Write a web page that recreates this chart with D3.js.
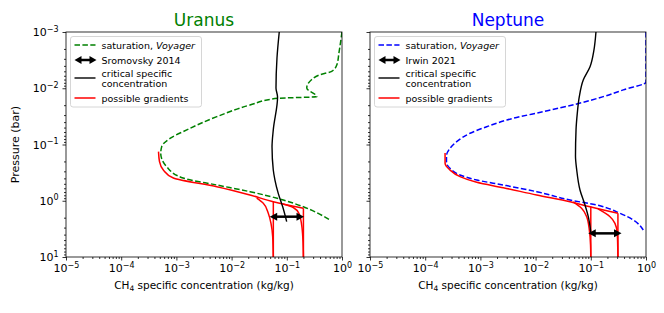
<!DOCTYPE html>
<html>
<head>
<meta charset="utf-8">
<script src="https://cdn.jsdelivr.net/npm/d3@7"></script>
<style>
body{margin:0;background:#fff;}
text{font-family:"DejaVu Sans",sans-serif;}
</style>
</head>
<body>
<script>
// axis ticks
var xMajor = [1e-5, 1e-4, 1e-3, 1e-2, 1e-1, 1];
var yMajor = [1e-3, 1e-2, 1e-1, 1, 10];

// Uranus
var uranusSatX = [1.0, 0.88, 0.81, 0.65, 0.40, 0.28, 0.23, 0.35, 0.068, 0.0215, 0.0054, 0.00154, 0.000766, 0.000542, 0.00052, 0.000667, 0.00132, 0.0054, 0.0215, 0.0865, 0.199, 0.61];
var uranusSatP = [0.001, 0.00236, 0.0038, 0.005, 0.00574, 0.00705, 0.0099, 0.0141, 0.0151, 0.0199, 0.032, 0.055, 0.078, 0.109, 0.144, 0.248, 0.394, 0.525, 0.69, 0.97, 1.28, 2.2];
var uranusCritX = [0.073, 0.0664, 0.0637, 0.068, 0.0569, 0.054, 0.0569, 0.061, 0.070, 0.0843, 0.0995];
var uranusCritP = [0.001, 0.0029, 0.0099, 0.0143, 0.055, 0.111, 0.284, 0.428, 0.738, 1.28, 2.35];
var uranusGradX = [0.000474, 0.000494, 0.00058, 0.00088, 0.0054, 0.0215, 0.057, 0.20];
var uranusGradP = [0.134, 0.202, 0.284, 0.394, 0.562, 0.79, 1.04, 1.36];
var uranusBendLowX = [0.0285, 0.0375, 0.0462, 0.0517, 0.0555, 0.057];
var uranusBendLowP = [0.90, 1.11, 1.67, 2.52, 4.35, 10];
var uranusBendHighX = [0.0853, 0.131, 0.168, 0.186, 0.196, 0.20];
var uranusBendHighP = [1.14, 1.32, 1.72, 2.70, 4.99, 10];
var uranusStepX = [0.057, 0.20];
var uranusStepTop = [1.04, 1.36];
var uranusArrowX = [0.049, 0.205];
var uranusArrowP = 1.92;

// Neptune
var neptuneSatX = [1.0, 1.0, 0.388, 0.168, 0.0556, 0.01377, 0.00394, 0.0013, 0.000649, 0.000372, 0.000281, 0.000243, 0.000243, 0.000281, 0.000427, 0.000857, 0.0026, 0.01047, 0.042, 0.128, 0.338, 0.589, 0.893];
var neptuneSatP = [0.001, 0.00774, 0.0107, 0.0141, 0.019, 0.0261, 0.0342, 0.0483, 0.0632, 0.0891, 0.117, 0.16, 0.205, 0.265, 0.348, 0.428, 0.525, 0.69, 0.97, 1.19, 1.67, 2.2, 3.31];
var neptuneCritX = [0.124, 0.114, 0.0968, 0.073, 0.0619, 0.0569, 0.054, 0.0528, 0.0556, 0.0637, 0.0785, 0.090, 0.10];
var neptuneCritP = [0.001, 0.00209, 0.00414, 0.00713, 0.0141, 0.0279, 0.055, 0.16, 0.284, 0.644, 1.19, 1.92, 3.6];
var neptuneGradX = [0.000229, 0.000229, 0.000281, 0.000427, 0.000857, 0.0026, 0.01047, 0.042, 0.0968, 0.31];
var neptuneGradP = [0.142, 0.216, 0.284, 0.373, 0.47, 0.586, 0.79, 1.04, 1.28, 1.67];
var neptuneBendLowX = [0.048, 0.068, 0.0843, 0.094, 0.0989, 0.10];
var neptuneBendLowP = [1.05, 1.36, 1.92, 3.31, 6.1, 10];
var neptuneBendHighX = [0.135, 0.223, 0.274, 0.302, 0.31];
var neptuneBendHighP = [1.40, 1.92, 2.52, 3.8, 10];
var neptuneStepX = [0.10, 0.31];
var neptuneStepTop = [1.27, 1.67];
var neptuneArrowX = [0.09, 0.36];
var neptuneArrowP = 3.8;

var W = 664, H = 313;
var pw = 276, ph = 225;

var svg = d3.select("body").append("svg")
	.attr("width", W).attr("height", H);

var x = d3.scaleLog().domain([1e-5, 1]).range([0, pw]);
var y = d3.scaleLog().domain([1e-3, 10]).range([0, ph]);

var line = d3.line()
	.x(function(d){ return x(d[0]); })
	.y(function(d){ return y(d[1]); })
	.curve(d3.curveMonotoneY);

function minorTicks(lo, hi){
	var t = [];
	for (var e = lo; e < hi; e++){
		for (var k = 2; k < 10; k++) t.push(k * Math.pow(10, e));
	}
	return t;
}

function expLabel(sel){
	sel.each(function(d){
		var e = Math.round(Math.log10(d));
		var t = d3.select(this).text(null);
		t.append("tspan").text("10");
		t.append("tspan").attr("font-size", "8px").attr("dy", "-0.55em")
			.text(String(e).replace("-", "\u2212"));
	});
}

svg.append("defs").append("clipPath").attr("id", "plotclip")
	.append("rect").attr("width", pw).attr("height", ph);

function arrow(g, x1, x2, yy, lw, hl, hw){
	g.append("line")
		.attr("x1", x1 + hl * 0.8).attr("x2", x2 - hl * 0.8)
		.attr("y1", yy).attr("y2", yy)
		.attr("stroke", "#000").attr("stroke-width", lw);
	g.append("path")
		.attr("d", "M" + x1 + "," + yy + "L" + (x1 + hl) + "," + (yy - hw) + "L" + (x1 + hl) + "," + (yy + hw) + "Z")
		.attr("fill", "#000");
	g.append("path")
		.attr("d", "M" + x2 + "," + yy + "L" + (x2 - hl) + "," + (yy - hw) + "L" + (x2 - hl) + "," + (yy + hw) + "Z")
		.attr("fill", "#000");
}

function panel(opt){
	var g = svg.append("g").attr("transform", "translate(" + opt.left + ",32)");

	// axes
	var xa = g.append("g").attr("transform", "translate(0," + ph + ")");
	xa.call(d3.axisBottom(x).tickValues(minorTicks(-5, 0)).tickSize(2).tickFormat(""));
	var xm = g.append("g").attr("transform", "translate(0," + ph + ")")
		.call(d3.axisBottom(x).tickValues(xMajor).tickSize(3.5).tickPadding(4));
	xm.selectAll(".tick text").attr("font-size", "11px").attr("fill", "#000")
		.attr("font-family", "DejaVu Sans").call(expLabel);

	var ya = g.append("g");
	ya.call(d3.axisLeft(y).tickValues(minorTicks(-3, 1)).tickSize(2).tickFormat(""));
	var ym = g.append("g").call(d3.axisLeft(y).tickValues(yMajor).tickSize(3.5).tickPadding(4));
	if (opt.yLabels){
		ym.selectAll(".tick text").attr("font-size", "11px").attr("fill", "#000")
			.attr("font-family", "DejaVu Sans").call(expLabel);
	} else {
		ym.selectAll(".tick text").remove();
	}
	g.selectAll(".domain").remove();
	g.selectAll(".tick line").attr("stroke", "#000").attr("stroke-width", 0.8);

	var plot = g.append("g").attr("clip-path", "url(#plotclip)");

	// saturation
	plot.append("path")
		.attr("d", line(d3.zip(opt.satX, opt.satP)))
		.attr("fill", "none").attr("stroke", opt.color)
		.attr("stroke-width", 1.5).attr("stroke-dasharray", "5.5,2.4");

	// possible gradients
	[[opt.gradX, opt.gradP], [opt.lowX, opt.lowP], [opt.highX, opt.highP]].forEach(function(c){
		plot.append("path")
			.attr("d", line(d3.zip(c[0], c[1])))
			.attr("fill", "none").attr("stroke", "red").attr("stroke-width", 1.5);
	});
	opt.stepX.forEach(function(v, i){
		plot.append("line")
			.attr("x1", x(v)).attr("x2", x(v))
			.attr("y1", y(opt.stepTop[i])).attr("y2", y(10))
			.attr("stroke", "red").attr("stroke-width", 1.5);
	});

	// critical specific concentration
	plot.append("path")
		.attr("d", line(d3.zip(opt.critX, opt.critP)))
		.attr("fill", "none").attr("stroke", "#000").attr("stroke-width", 1.4);

	arrow(g, x(opt.arrowX[0]), x(opt.arrowX[1]), y(opt.arrowP), 2.5, 7.5, 4);

	g.append("rect").attr("width", pw).attr("height", ph)
		.attr("fill", "none").attr("stroke", "#000").attr("stroke-width", 0.8);

	// title
	g.append("text").attr("x", pw / 2).attr("y", -6)
		.attr("text-anchor", "middle").attr("font-size", "17px")
		.attr("fill", opt.color).text(opt.title);

	// x label
	var xl = g.append("text").attr("x", pw / 2).attr("y", ph + 32)
		.attr("text-anchor", "middle").attr("font-size", "10.5px").attr("fill", "#000");
	xl.append("tspan").text("CH");
	xl.append("tspan").attr("font-size", "7.5px").attr("dy", "2").text("4");
	xl.append("tspan").attr("dy", "-2").text(" specific concentration (kg/kg)");

	// legend
	var lg = g.append("g").attr("transform", "translate(4.5,4.5)");
	lg.append("rect").attr("width", 131).attr("height", 70.5).attr("rx", 2.5)
		.attr("fill", "#fff").attr("fill-opacity", 0.8)
		.attr("stroke", "#ccc").attr("stroke-width", 0.8);
	var hx0 = 4, hx1 = 25, tx = 31;
	lg.append("line").attr("x1", hx0).attr("x2", hx1).attr("y1", 8.5).attr("y2", 8.5)
		.attr("stroke", opt.color).attr("stroke-width", 1.5).attr("stroke-dasharray", "5.5,2.4");
	var t1 = lg.append("text").attr("x", tx).attr("y", 12).attr("font-size", "9.5px");
	t1.append("tspan").text("saturation, ");
	t1.append("tspan").attr("font-style", "italic").text("Voyager");
	arrow(lg, hx0, hx1 + 1, 23.5, 2.5, 7, 4);
	lg.append("text").attr("x", tx).attr("y", 27).attr("font-size", "9.5px").text(opt.ref);
	lg.append("line").attr("x1", hx0).attr("x2", hx1).attr("y1", 41.5).attr("y2", 41.5)
		.attr("stroke", "#000").attr("stroke-width", 1.4);
	lg.append("text").attr("x", tx).attr("y", 40).attr("font-size", "9.5px").text("critical specific");
	lg.append("text").attr("x", tx).attr("y", 50).attr("font-size", "9.5px").text("concentration");
	lg.append("line").attr("x1", hx0).attr("x2", hx1).attr("y1", 61.5).attr("y2", 61.5)
		.attr("stroke", "red").attr("stroke-width", 1.5);
	lg.append("text").attr("x", tx).attr("y", 65).attr("font-size", "9.5px").text("possible gradients");
}

panel({
	left: 66, title: "Uranus", color: "green", ref: "Sromovsky 2014", yLabels: true,
	satX: uranusSatX, satP: uranusSatP, critX: uranusCritX, critP: uranusCritP,
	gradX: uranusGradX, gradP: uranusGradP, lowX: uranusBendLowX, lowP: uranusBendLowP,
	highX: uranusBendHighX, highP: uranusBendHighP, stepX: uranusStepX, stepTop: uranusStepTop,
	arrowX: uranusArrowX, arrowP: uranusArrowP
});
panel({
	left: 370, title: "Neptune", color: "blue", ref: "Irwin 2021", yLabels: false,
	satX: neptuneSatX, satP: neptuneSatP, critX: neptuneCritX, critP: neptuneCritP,
	gradX: neptuneGradX, gradP: neptuneGradP, lowX: neptuneBendLowX, lowP: neptuneBendLowP,
	highX: neptuneBendHighX, highP: neptuneBendHighP, stepX: neptuneStepX, stepTop: neptuneStepTop,
	arrowX: neptuneArrowX, arrowP: neptuneArrowP
});

svg.append("text")
	.attr("transform", "translate(19,144.5) rotate(-90)")
	.attr("text-anchor", "middle").attr("font-size", "11px").attr("fill", "#000")
	.text("Pressure (bar)");
</script>
</body>
</html>
